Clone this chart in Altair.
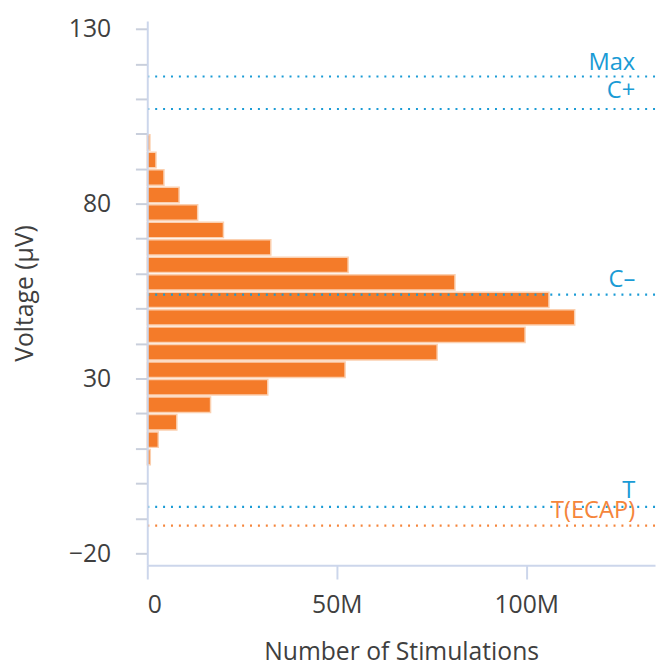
import altair as alt
import pandas as pd

# Histogram bins (voltage, µV) and counts (millions of stimulations)
bin_start = [5, 10, 15, 20, 25, 30, 35, 40, 45, 50, 55, 60, 65, 70, 75, 80, 85, 90, 95]
stims_millions = [0.8, 2.9, 7.8, 16.7, 31.8, 52.2, 76.5, 99.7, 112.8, 106.0,
                  81.2, 53.0, 32.6, 20.1, 13.3, 8.4, 4.4, 2.3, 0.7]
bin_width = 5

# Reference lines
line_names = ["Max", "C+", "C\u2013", "T", "T(ECAP)"]
line_values = [116.4, 107.1, 54.0, -6.7, -12.1]
line_colors = ["#1a9bd5", "#1a9bd5", "#1a9bd5", "#1a9bd5", "#f5853b"]

# Axis ticks / labels
y_labelled = [-20, 30, 80, 130]
y_ticks = list(range(-20, 131, 10))
x_tick_values = [0, 50e6, 100e6]
x_tick_labels = ["0", "50M", "100M"]

FONT = "Open Sans"
TXT = "#3f3f3f"
AXIS_LINE = "#ccd6eb"

bars_df = pd.DataFrame({
    "lo": bin_start,
    "hi": [b + bin_width for b in bin_start],
    "count": [v * 1e6 for v in stims_millions],
})
lines_df = pd.DataFrame({"name": line_names, "value": line_values})

yscale = alt.Scale(domain=[-23.4, 132.3], nice=False, zero=False)
xscale = alt.Scale(domain=[0, 134e6], nice=False, zero=True)

label_map = "{" + ", ".join(f"'{int(v)}': '{l}'" for v, l in zip(x_tick_values, x_tick_labels)) + "}"

yaxis = alt.Axis(
    values=y_ticks,
    labelExpr="indexof(" + str(y_labelled) + ", datum.value) >= 0 ? datum.label : ''",
    tickSize=12, labelPadding=25, grid=False,
    domainColor=AXIS_LINE, domainWidth=2, tickColor="#c9cfdc", tickWidth=2,
    labelFont=FONT, labelFontSize=25, labelColor=TXT,
    title="Voltage (\u03bcV)", titleFont=FONT, titleFontSize=25, titleFontWeight="normal",
    titleColor=TXT, titlePadding=31, zindex=1,
)
xaxis = alt.Axis(
    values=x_tick_values,
    labelExpr=label_map + "[toString(datum.value)]",
    tickSize=14, labelPadding=14, grid=False,
    domainColor=AXIS_LINE, domainWidth=2, tickColor=AXIS_LINE, tickWidth=2,
    labelFont=FONT, labelFontSize=25, labelColor=TXT,
    title="Number of Stimulations", titleFont=FONT, titleFontSize=25,
    titleFontWeight="normal", titleColor=TXT, titlePadding=22, zindex=1,
)

bars = alt.Chart(bars_df).transform_calculate(
    lo_pad="datum.lo + 0.3", hi_pad="datum.hi - 0.3", zero="0"
).mark_bar(color="#f47b29", stroke="#fbd0b0", strokeWidth=1.5).encode(
    x=alt.X("count:Q", scale=xscale, axis=xaxis),
    x2="zero:Q",
    y=alt.Y("lo_pad:Q", scale=yscale, axis=yaxis),
    y2="hi_pad:Q",
)

rules = alt.Chart(lines_df).mark_rule(strokeDash=[2, 6], strokeWidth=2.2).encode(
    y=alt.Y("value:Q", scale=yscale, axis=yaxis),
    color=alt.Color("name:N", scale=alt.Scale(domain=line_names, range=line_colors), legend=None),
)

label_dy = {"Max": -7, "C+": -11, "C\u2013": -8, "T": -9, "T(ECAP)": -8}
texts = []
for name, col in zip(line_names, line_colors):
    texts.append(
        alt.Chart(lines_df).transform_filter(alt.datum.name == name).mark_text(
            align="right", baseline="alphabetic", dy=label_dy[name],
            font=FONT, fontSize=24, color=col,
        ).encode(
            x=alt.value(494),
            y=alt.Y("value:Q", scale=yscale, axis=yaxis),
            text="name:N",
        )
    )

chart = alt.layer(bars, rules, *texts).properties(
    width=514, height=551,
    autosize=alt.AutoSizeParams(type="none"),
    padding={"left": 141, "top": 9, "right": 2, "bottom": 97},
    background="white",
).configure_view(stroke=None)

chart.save("out.html", embed_options={"renderer": "svg", "actions": False})
